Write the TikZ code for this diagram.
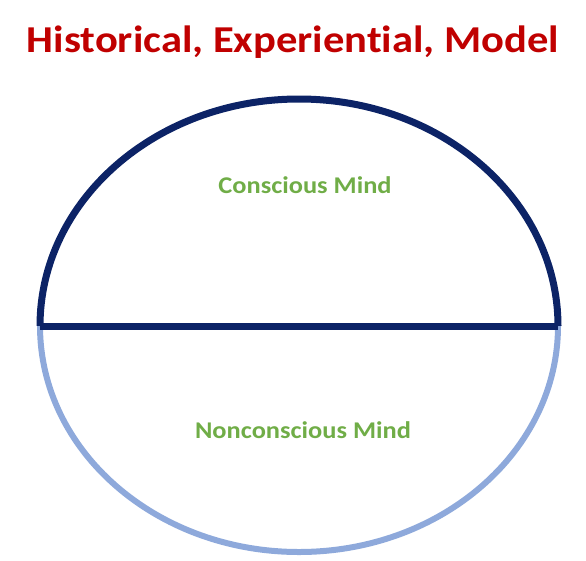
\documentclass[tikz,border=0pt]{standalone}
\usepackage{fontspec}
\setsansfont{Carlito}[Ligatures=NoCommon]
\usetikzlibrary{positioning}

\definecolor{titlered}{HTML}{C00000}
\definecolor{mindgreen}{HTML}{70AD47}
\definecolor{navy}{HTML}{0C2366}
\definecolor{paleblue}{HTML}{8EA9DB}

\newcommand{\widetext}[2]{\scalebox{#1}[1]{#2}}

\begin{document}
\begin{tikzpicture}[
    x=1pt, y=1pt,
    font=\sffamily,
    title/.style={text=titlered, anchor=base, font=\sffamily\bfseries\fontsize{38}{44}\selectfont},
    label/.style={text=mindgreen, anchor=base, font=\sffamily\bfseries\fontsize{24}{28}\selectfont},
    upper/.style={draw=navy, line width=7pt},
    lower/.style={draw=paleblue, line width=6pt}
]
\useasboundingbox (0,0) rectangle (586,-560);

\coordinate (west) at (40,-326);
\coordinate (east) at (558,-326);

\node[title] (head) at (293,-52) {\widetext{1.12}{Historical, Experiential, Model}};

% lower half first, then the upper half over it
\draw[lower] (east) arc[start angle=0, end angle=-180, x radius=259, y radius=226];
\draw[upper] (west) arc[start angle=180, end angle=0, x radius=259, y radius=227];
\draw[upper] (west) -- (east);

\node[label] (conscious) at (305,-193) {\widetext{1.1}{Conscious Mind}};
\node[label] (nonconscious) at (303,-438) {\widetext{1.1}{Nonconscious Mind}};

\end{tikzpicture}
\end{document}
